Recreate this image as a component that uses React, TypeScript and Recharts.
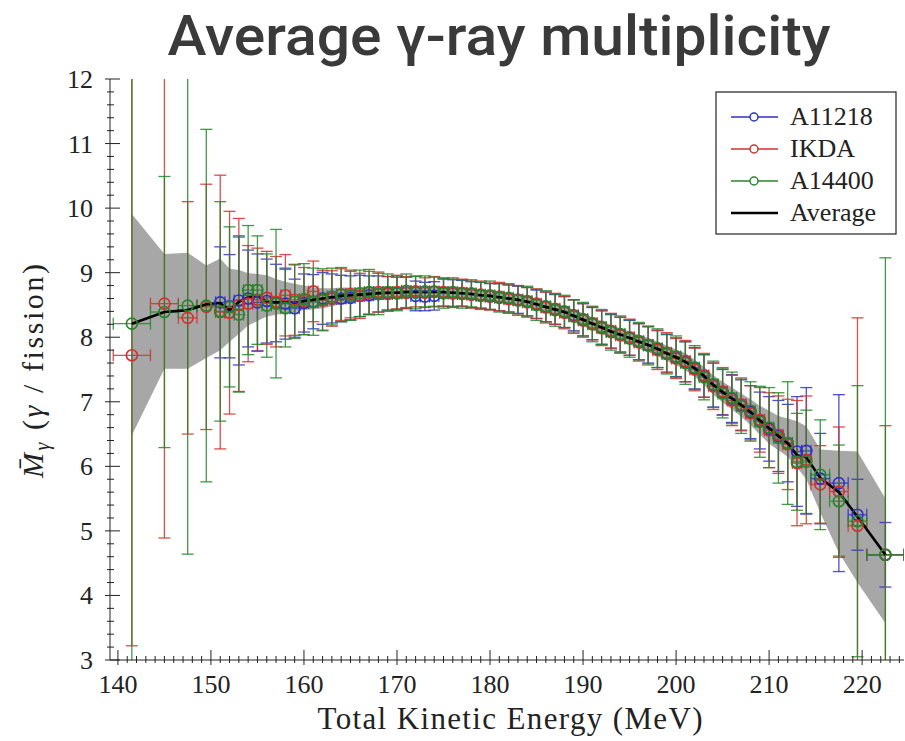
import React from 'react'
import { ComposedChart, Area, Line, Scatter, ErrorBar, XAxis, YAxis } from 'recharts'

// TKE bin centres (MeV)
const tke = [
  141.5, 145, 147.5, 149.5,
  151, 152, 153, 154, 155, 156, 157, 158, 159, 160,
  161, 162, 163, 164, 165, 166, 167, 168, 169, 170,
  171, 172, 173, 174, 175, 176, 177, 178, 179, 180,
  181, 182, 183, 184, 185, 186, 187, 188, 189, 190,
  191, 192, 193, 194, 195, 196, 197, 198, 199, 200,
  201, 202, 203, 204, 205, 206, 207, 208, 209, 210,
  211, 212, 213, 214, 215.5, 217.5, 219.5, 222.5,
]
// half bin widths
const tkeHalfWidth = [
  2, 1.5, 1, 1,
  0.5, 0.5, 0.5, 0.5, 0.5, 0.5, 0.5, 0.5, 0.5, 0.5,
  0.5, 0.5, 0.5, 0.5, 0.5, 0.5, 0.5, 0.5, 0.5, 0.5,
  0.5, 0.5, 0.5, 0.5, 0.5, 0.5, 0.5, 0.5, 0.5, 0.5,
  0.5, 0.5, 0.5, 0.5, 0.5, 0.5, 0.5, 0.5, 0.5, 0.5,
  0.5, 0.5, 0.5, 0.5, 0.5, 0.5, 0.5, 0.5, 0.5, 0.5,
  0.5, 0.5, 0.5, 0.5, 0.5, 0.5, 0.5, 0.5, 0.5, 0.5,
  0.5, 0.5, 0.5, 0.5, 1, 1, 1, 2,
]

const average = [
  8.21, 8.39, 8.42, 8.51,
  8.53, 8.42, 8.55, 8.62, 8.64, 8.55, 8.54, 8.55, 8.53, 8.56,
  8.58, 8.60, 8.62, 8.64, 8.65, 8.66, 8.67, 8.68, 8.69, 8.69,
  8.70, 8.70, 8.70, 8.70, 8.70, 8.69, 8.68, 8.67, 8.65, 8.64,
  8.62, 8.60, 8.58, 8.55, 8.51, 8.47, 8.43, 8.39, 8.33, 8.27,
  8.21, 8.15, 8.09, 8.04, 7.99, 7.93, 7.88, 7.82, 7.75, 7.69,
  7.62, 7.52, 7.40, 7.26, 7.15, 7.05, 6.95, 6.84, 6.71, 6.59,
  6.47, 6.36, 6.17, 6.14, 5.82, 5.60, 5.22, 4.63,
]
const bandHigh = [
  9.91, 9.29, 9.31, 9.11,
  9.22, 9.06, 9.04, 8.99, 8.98, 8.96, 8.90, 8.86, 8.83, 8.80,
  8.77, 8.76, 8.76, 8.77, 8.77, 8.77, 8.78, 8.78, 8.79, 8.79,
  8.80, 8.79, 8.79, 8.79, 8.79, 8.78, 8.77, 8.76, 8.74, 8.73,
  8.71, 8.69, 8.67, 8.64, 8.60, 8.56, 8.52, 8.48, 8.43, 8.37,
  8.31, 8.25, 8.19, 8.14, 8.09, 8.04, 7.99, 7.93, 7.87, 7.81,
  7.75, 7.65, 7.54, 7.41, 7.31, 7.22, 7.13, 7.04, 6.94, 6.86,
  6.78, 6.74, 6.70, 6.62, 6.26, 6.24, 6.23, 5.50,
]
const bandLow = [
  6.48, 7.51, 7.51, 7.68,
  7.80, 7.93, 8.05, 8.18, 8.25, 8.32, 8.35, 8.37, 8.39, 8.42,
  8.43, 8.45, 8.48, 8.51, 8.53, 8.55, 8.56, 8.58, 8.59, 8.60,
  8.61, 8.61, 8.61, 8.61, 8.61, 8.60, 8.59, 8.58, 8.56, 8.55,
  8.53, 8.51, 8.49, 8.46, 8.42, 8.38, 8.34, 8.30, 8.23, 8.17,
  8.11, 8.05, 7.99, 7.94, 7.89, 7.82, 7.77, 7.71, 7.63, 7.57,
  7.49, 7.39, 7.26, 7.11, 6.99, 6.88, 6.77, 6.64, 6.49, 6.35,
  6.25, 6.15, 5.98, 5.80, 5.28, 4.66, 4.20, 3.57,
]

// A11218
const a11218 = [
  null, null, null, null,
  8.54, 8.48, 8.57, 8.60, 8.54, 8.56, 8.53, 8.52, 8.45, 8.53,
  8.55, 8.60, 8.60, 8.60, 8.61, 8.64, 8.65, 8.67, 8.68, 8.68,
  8.69, 8.64, 8.63, 8.64, 8.69, 8.68, 8.68, 8.66, 8.65, 8.63,
  8.62, 8.60, 8.58, 8.55, 8.51, 8.47, 8.43, 8.39, 8.34, 8.27,
  8.21, 8.15, 8.09, 8.04, 7.99, 7.93, 7.88, 7.82, 7.75, 7.69,
  7.62, 7.52, 7.40, 7.26, 7.15, 7.05, 6.95, 6.84, 6.71, 6.58,
  6.47, 6.36, 6.23, 6.24, 5.81, 5.74, 5.25, 4.63,
]
const a11218Err = [
  null, null, null, null,
  0.86, 0.80, 1.00, 0.75, 0.75, 0.65, 0.60, 0.55, 0.45, 0.45,
  0.42, 0.40, 0.38, 0.36, 0.34, 0.32, 0.30, 0.28, 0.26, 0.25,
  0.24, 0.23, 0.22, 0.22, 0.21, 0.21, 0.20, 0.20, 0.20, 0.20,
  0.21, 0.21, 0.21, 0.22, 0.22, 0.23, 0.23, 0.24, 0.24, 0.25,
  0.25, 0.26, 0.26, 0.27, 0.27, 0.28, 0.28, 0.29, 0.29, 0.30,
  0.31, 0.32, 0.33, 0.34, 0.35, 0.37, 0.39, 0.41, 0.44, 0.50,
  0.55, 0.60, 0.85, 0.98, 0.70, 1.37, 0.55, 0.50,
]

// IKDA
const ikda = [
  7.72, 8.52, 8.30, 8.47,
  8.39, 8.38, 8.50, 8.52, 8.58, 8.61, 8.55, 8.65, 8.58, 8.56,
  8.71, 8.57, 8.60, 8.66, 8.67, 8.64, 8.69, 8.70, 8.67, 8.70,
  8.69, 8.71, 8.69, 8.71, 8.70, 8.68, 8.69, 8.66, 8.66, 8.63,
  8.63, 8.59, 8.58, 8.54, 8.52, 8.46, 8.44, 8.38, 8.33, 8.26,
  8.22, 8.14, 8.10, 8.03, 8.00, 7.92, 7.88, 7.80, 7.76, 7.67,
  7.63, 7.50, 7.41, 7.24, 7.16, 7.02, 6.96, 6.82, 6.72, 6.56,
  6.49, 6.34, 6.05, 6.10, 5.72, 5.61, 5.08, 4.63,
]
const ikdaErr = [
  4.50, 3.63, 1.80, 1.90,
  2.12, 1.57, 1.34, 0.90, 0.80, 0.72, 0.70, 0.63, 0.55, 0.52,
  0.47, 0.46, 0.43, 0.40, 0.37, 0.35, 0.33, 0.31, 0.27, 0.26,
  0.25, 0.24, 0.23, 0.23, 0.22, 0.22, 0.21, 0.21, 0.21, 0.21,
  0.22, 0.22, 0.22, 0.23, 0.23, 0.24, 0.24, 0.25, 0.25, 0.26,
  0.26, 0.27, 0.27, 0.28, 0.28, 0.29, 0.29, 0.30, 0.31, 0.31,
  0.32, 0.33, 0.34, 0.36, 0.37, 0.39, 0.41, 0.43, 0.50, 0.58,
  0.60, 0.70, 0.97, 0.99, 0.60, 1.00, 3.22, 2.00,
]

// A14400
const a14400 = [
  8.21, 8.39, 8.49, 8.49,
  8.40, 8.47, 8.35, 8.73, 8.73, 8.49, 8.52, 8.45, 8.55, 8.59,
  8.55, 8.58, 8.63, 8.66, 8.64, 8.68, 8.70, 8.67, 8.70, 8.68,
  8.72, 8.69, 8.71, 8.70, 8.68, 8.70, 8.67, 8.68, 8.64, 8.65,
  8.61, 8.61, 8.57, 8.56, 8.50, 8.48, 8.42, 8.40, 8.32, 8.28,
  8.20, 8.16, 8.08, 8.05, 7.98, 7.94, 7.87, 7.83, 7.74, 7.70,
  7.60, 7.53, 7.38, 7.27, 7.13, 7.06, 6.93, 6.86, 6.69, 6.60,
  6.44, 6.36, 6.07, 6.07, 5.87, 5.46, 5.15, 4.63,
]
const a14400Err = [
  5.50, 2.10, 3.85, 2.73,
  1.70, 1.24, 1.20, 1.00, 0.84, 0.80, 1.15, 0.60, 0.57, 0.55,
  0.52, 0.48, 0.44, 0.42, 0.38, 0.36, 0.35, 0.32, 0.28, 0.27,
  0.26, 0.25, 0.24, 0.23, 0.23, 0.22, 0.22, 0.21, 0.21, 0.22,
  0.22, 0.22, 0.23, 0.23, 0.24, 0.24, 0.25, 0.25, 0.26, 0.26,
  0.27, 0.27, 0.28, 0.28, 0.29, 0.29, 0.30, 0.30, 0.31, 0.32,
  0.33, 0.34, 0.35, 0.36, 0.38, 0.40, 0.42, 0.45, 0.55, 0.62,
  0.70, 0.95, 0.75, 0.80, 0.85, 0.87, 2.10, 4.60,
]

const xLabelTicks = [140, 150, 160, 170, 180, 190, 200, 210, 220]
const yLabelTicks = [3, 4, 5, 6, 7, 8, 9, 10, 11, 12]
const legendNames = ['A11218', 'IKDA', 'A14400', 'Average']

const BLUE = '#2f2fc8'
const RED = '#d2302e'
const GREEN = '#23862a'
const INK = '#222'
const SERIF = '"Liberation Serif", "DejaVu Serif", serif'

// minor ticks: every 1 MeV and every 0.2 in multiplicity
const xMinor = Array.from({ length: 85 }, (_, i) => 140 + i)
const yMinor = Array.from({ length: 46 }, (_, i) => Math.round((3 + i * 0.2) * 10) / 10)

const bandRows = tke.map((e, i) => ({ e, band: [bandLow[i], bandHigh[i]], avg: average[i] }))

function points(vals: (number | null)[], errs: (number | null)[]) {
  return tke
    .map((e, i) => ({ e, m: vals[i], err: errs[i], xerr: tkeHalfWidth[i] }))
    .filter(p => p.m != null)
}

const series = [
  { name: 'A11218', color: BLUE, data: points(a11218, a11218Err) },
  { name: 'IKDA', color: RED, data: points(ikda, ikdaErr) },
  { name: 'A14400', color: GREEN, data: points(a14400, a14400Err) },
]

const isMajor = (v: number, list: number[]) => list.some(t => Math.abs(t - v) < 1e-6)

// ticks cross the frame: longer on the inside
const BottomTick = (p: any) => {
  const v = p.payload.value
  const major = isMajor(v, xLabelTicks)
  return (
    <g>
      <line x1={p.x} x2={p.x} y1={p.y + (major ? 5 : 3)} y2={p.y - (major ? 10 : 4)} stroke={INK} />
      {major && (
        <text x={p.x} y={p.y + 33} textAnchor="middle" fontFamily={SERIF} fontSize={26} fill={INK}>{v}</text>
      )}
    </g>
  )
}
const TopTick = (p: any) => {
  const major = isMajor(p.payload.value, xLabelTicks)
  return <line x1={p.x} x2={p.x} y1={p.y} y2={p.y + (major ? 10 : 4)} stroke={INK} />
}
const LeftTick = (p: any) => {
  const v = p.payload.value
  const major = isMajor(v, yLabelTicks)
  return (
    <g>
      <line x1={p.x - (major ? 5 : 3)} x2={p.x + (major ? 10 : 4)} y1={p.y} y2={p.y} stroke={INK} />
      {major && (
        <text x={p.x - 17} y={p.y + 9} textAnchor="end" fontFamily={SERIF} fontSize={26} fill={INK}>{v}</text>
      )}
    </g>
  )
}
const RightTick = (p: any) => {
  const major = isMajor(p.payload.value, yLabelTicks)
  return <line x1={p.x} x2={p.x - (major ? 10 : 4)} y1={p.y} y2={p.y} stroke={INK} />
}

const ring = (color: string) => (p: any) =>
  <circle cx={p.cx} cy={p.cy} r={5.5} fill="none" stroke={color} strokeWidth={1.6} />

const legendColors = [BLUE, RED, GREEN, '#000']

export default function App() {
  const xDomain = [139.15, 224.5]
  return (
    <div style={{ position: 'absolute', left: 0, top: 0, width: 905, height: 741, background: '#fff' }}>
      <style>{'.recharts-errorBars, .recharts-errorBar { clip-path: url(#plot-area-clip); }'}</style>
      <ComposedChart width={905} height={741} data={bandRows} margin={{ top: 79, right: 1, bottom: 0, left: 50 }}>
        <XAxis xAxisId={0} dataKey="e" type="number" domain={xDomain} allowDataOverflow ticks={xMinor}
          interval={0} height={81} tickSize={0} tickMargin={0} tickLine={false}
          axisLine={{ stroke: INK }} tick={BottomTick} />
        <XAxis xAxisId="top" orientation="top" type="number" domain={xDomain} allowDataOverflow ticks={xMinor}
          interval={0} height={0} tickSize={0} tickMargin={0} tickLine={false}
          axisLine={{ stroke: INK }} tick={TopTick} />
        <YAxis yAxisId={0} type="number" domain={[3, 12]} allowDataOverflow ticks={yMinor}
          interval={0} width={60} tickSize={0} tickMargin={0} tickLine={false}
          axisLine={{ stroke: INK }} tick={LeftTick} />
        <YAxis yAxisId="right" orientation="right" type="number" domain={[3, 12]} allowDataOverflow ticks={yMinor}
          interval={0} width={0} tickSize={0} tickMargin={0} tickLine={false}
          axisLine={{ stroke: INK }} tick={RightTick} />

        <Area dataKey="band" type="linear" fill="#a7a7a7" fillOpacity={1} stroke="none" isAnimationActive={false} />

        {series.map(s => (
          <Scatter key={s.name} name={s.name} data={s.data} dataKey="m" shape={ring(s.color)} isAnimationActive={false}>
            <ErrorBar dataKey="err" direction="y" width={6} stroke={s.color} strokeWidth={1.3} strokeOpacity={0.85} />
            <ErrorBar dataKey="xerr" direction="x" width={6} stroke={s.color} strokeWidth={1.3} strokeOpacity={0.85} />
          </Scatter>
        ))}

        <Line dataKey="avg" type="linear" stroke="#000" strokeWidth={2.6} dot={false} isAnimationActive={false} />
      </ComposedChart>

      <svg width={905} height={741} style={{ position: 'absolute', left: 0, top: 0, pointerEvents: 'none' }}>
        <defs>
          <clipPath id="plot-area-clip" clipPathUnits="userSpaceOnUse">
            <rect x={110} y={79} width={794} height={581} />
          </clipPath>
        </defs>

        <text x={499} y={55} textAnchor="middle" fontFamily="Roboto, sans-serif" fontWeight={500} fontSize={55}
          fill="#3a3a3a" textLength={663} lengthAdjust="spacingAndGlyphs">Average γ-ray multiplicity</text>

        <text x={510} y={729} textAnchor="middle" fontFamily={SERIF} fontSize={31} fill={INK}
          textLength={385} lengthAdjust="spacing">Total Kinetic Energy (MeV)</text>

        <text transform="translate(43 371) rotate(-90)" textAnchor="middle" fontFamily={SERIF} fontSize={30} fill={INK}
          textLength={214} lengthAdjust="spacing">
          <tspan fontStyle="italic">{'M\u0304'}</tspan>
          <tspan fontStyle="italic" fontSize={20} dy={6}>γ</tspan>
          <tspan dy={-6}> (</tspan>
          <tspan fontStyle="italic">γ</tspan>
          <tspan> / fission)</tspan>
        </text>

        <g>
          <rect x={716} y={92} width={180} height={142} fill="#fff" stroke={INK} strokeWidth={1.2} />
          {legendNames.map((name, i) => {
            const cy = 117 + i * 32
            return (
              <g key={name}>
                <line x1={731} x2={778} y1={cy} y2={cy} stroke={legendColors[i]} strokeWidth={i === 3 ? 2.6 : 1.3} />
                {i < 3 && <circle cx={754} cy={cy} r={4} fill="#fff" stroke={legendColors[i]} strokeWidth={1.5} />}
                <text x={790} y={cy + 8} fontFamily={SERIF} fontSize={26} fill={INK}>{name}</text>
              </g>
            )
          })}
        </g>
      </svg>
    </div>
  )
}
